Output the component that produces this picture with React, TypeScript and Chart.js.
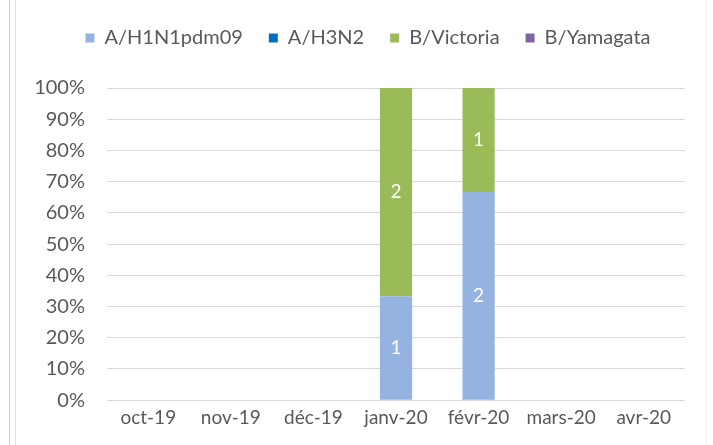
import React, { useEffect, useRef } from "react";
import { Chart, registerables } from "chart.js";

Chart.register(...registerables);

const categories = ["oct-19", "nov-19", "déc-19", "janv-20", "févr-20", "mars-20", "avr-20"];
const seriesNames = ["A/H1N1pdm09", "A/H3N2", "B/Victoria", "B/Yamagata"];
const h1n1Counts = [0, 0, 0, 1, 2, 0, 0];
const h3n2Counts = [0, 0, 0, 0, 0, 0, 0];
const victoriaCounts = [0, 0, 0, 2, 1, 0, 0];
const yamagataCounts = [0, 0, 0, 0, 0, 0, 0];
const seriesColors = ["#95B3E0", "#0070C0", "#9BBB59", "#8064A2"];
const yTicks = [0, 10, 20, 30, 40, 50, 60, 70, 80, 90, 100];

const FONT = "Lato";

export default function App() {
  const ref = useRef<HTMLCanvasElement | null>(null);

  useEffect(() => {
    document.body.style.margin = "0";
    const counts = [h1n1Counts, h3n2Counts, victoriaCounts, yamagataCounts];
    const totals = categories.map((_, i) => counts.reduce((s, c) => s + c[i], 0));
    const datasets = counts.map((c, k) => ({
      label: seriesNames[k],
      data: c.map((v, i) => (totals[i] ? (v / totals[i]) * 100 : 0)),
      counts: c,
      backgroundColor: seriesColors[k],
      borderWidth: 0,
      barPercentage: 0.39,
      categoryPercentage: 1,
    }));

    const labelPlugin = {
      id: "countLabels",
      afterDatasetsDraw(chart: any) {
        const ctx = chart.ctx;
        ctx.save();
        ctx.fillStyle = "#FFFFFF";
        ctx.font = `19px ${FONT}`;
        ctx.textAlign = "center";
        ctx.textBaseline = "middle";
        chart.data.datasets.forEach((ds: any, di: number) => {
          const meta = chart.getDatasetMeta(di);
          meta.data.forEach((el: any, i: number) => {
            const v = ds.counts[i];
            if (!v) return;
            ctx.fillText(String(v), el.x, (el.y + el.base) / 2);
          });
        });
        ctx.restore();
      },
    };

    const legendPlugin = {
      id: "legendAdjust",
      beforeLayout(chart: any) {
        const lg = chart.legend;
        if (lg && !lg._patched) {
          const fit = lg.fit;
          lg.fit = function () {
            fit.call(this);
            this.height += 30;
          };
          lg._patched = true;
        }
      },
      afterLayout(chart: any) {
        const lg = chart.legend;
        if (lg) {
          lg.left += 18;
          lg.right += 18;
        }
      },
    };

    const chart = new Chart(ref.current as HTMLCanvasElement, {
      type: "bar",
      data: { labels: categories, datasets: datasets as any },
      plugins: [labelPlugin, legendPlugin],
      options: {
        animation: false,
        responsive: false,
        maintainAspectRatio: false,
        layout: { padding: { left: 15, right: 28, top: 2, bottom: 10 } },
        plugins: {
          tooltip: { enabled: false },
          legend: {
            position: "top",
            labels: {
              boxWidth: 9,
              boxHeight: 9,
              padding: 26,
              color: "#595959",
              font: { family: FONT, size: 20 },
            },
          },
        },
        scales: {
          x: {
            stacked: true,
            grid: { display: false, drawTicks: false },
            border: { display: false },
            ticks: { color: "#595959", font: { family: FONT, size: 19 }, padding: 6, maxRotation: 0 },
          },
          y: {
            stacked: true,
            min: 0,
            max: 100,
            afterFit(scale: any) {
              scale.width = 92;
            },
            afterBuildTicks(scale: any) {
              scale.ticks = yTicks.map((v) => ({ value: v }));
            },
            grid: { color: "#D9D9D9", lineWidth: 1, drawTicks: false },
            border: { display: false },
            ticks: {
              color: "#595959",
              font: { family: FONT, size: 20 },
              padding: 22,
              callback: (v: any) => `${v}%`,
            },
          },
        },
      },
    });
    return () => chart.destroy();
  }, []);

  return (
    <div style={{ position: "relative", width: 713, height: 445, background: "#FFFFFF" }}>
      <canvas ref={ref} width={713} height={445} style={{ display: "block" }} />
      <div style={{ position: "absolute", left: 9, top: 0, width: 1, height: 445, background: "#D4D4D4" }} />
      <div style={{ position: "absolute", left: 15, top: 0, width: 1, height: 445, background: "#E2E2E2" }} />
      <div style={{ position: "absolute", left: 706, top: 0, width: 1, height: 445, background: "#F0F0F0" }} />
    </div>
  );
}
